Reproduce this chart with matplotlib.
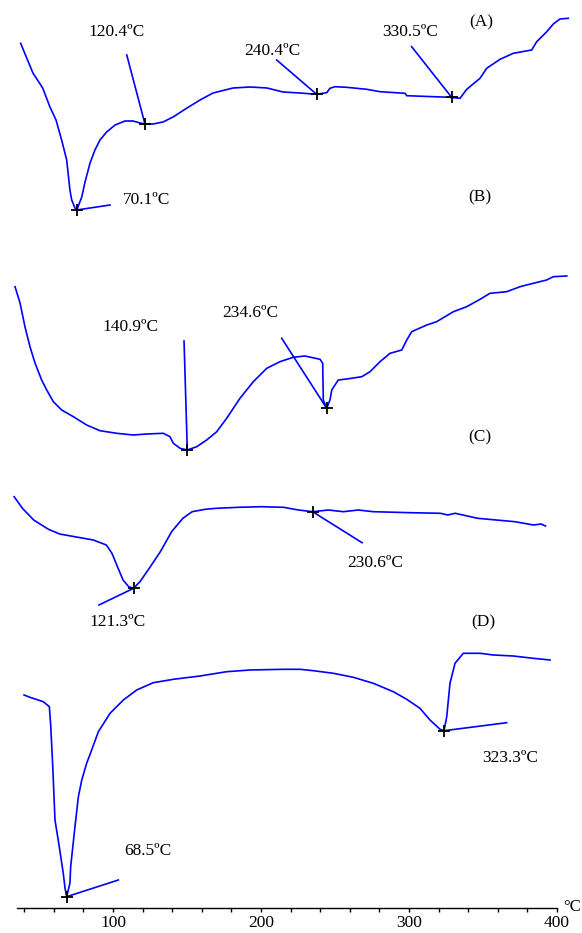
import numpy as np
import matplotlib
matplotlib.use("Agg")
import matplotlib.pyplot as plt

plt.rcParams['font.family'] = ['Liberation Serif', 'DejaVu Serif']

# DSC curves, temperature in degC, signal in arbitrary units (0 = lowest point of each curve)
temp_a = [37.6, 41.7, 45.9, 52.5, 57.4, 61.5, 65.3, 68.7, 70.9, 72.1, 74.3, 75.5, 78.9, 81.1, 84.5,
          87.8, 91.2, 95.7, 101.4, 108.1, 113.5, 118.3, 121.6, 127.0, 133.8, 140.6, 150.0, 158.8,
          167.6, 181.1, 192.6, 204.1, 214.9, 226.4, 237.6, 244.4, 246.6, 250.0, 257.9, 271.4, 280.4,
          297.3, 298.5, 327.7, 334.5, 339.0, 348.0, 352.5, 361.5, 370.5, 382.9, 386.3, 393.1, 397.5,
          402.0, 407.6]
dsc_a = [166.7, 152, 137, 122, 103, 90, 70, 50, 20, 10, 2, 0, 13, 28, 47, 60, 70, 78, 85, 89, 89, 87,
         86, 86, 88, 93, 102, 110, 117, 122, 123, 122, 118, 117, 115.7, 117.3, 121.7, 123.3, 122.7,
         120.7, 118.3, 116.7, 114.3, 112.7, 111.7, 120.7, 131.7, 141.7, 150.7, 156.7, 160, 168.3,
         178.3, 186, 191, 191.7]

temp_b = [33.8, 37.2, 40.5, 43.9, 47.3, 51.8, 55.2, 59.7, 65.3, 73.2, 82.2, 91.2, 102.5, 113.7, 122.8,
          134.0, 138.5, 140.8, 145.3, 150.2, 156.6, 163.3, 170.1, 176.8, 185.8, 194.8, 203.9, 212.8,
          221.8, 229.7, 239.9, 241.7, 242.1, 244.4, 246.6, 247.8, 252.2, 257.9, 268.1, 273.7, 280.4,
          287.2, 295.1, 298.5, 301.8, 312.0, 318.7, 330.0, 339.0, 348.0, 354.7, 366.0, 375.0, 384.0,
          393.0, 397.5, 406.6]
dsc_b = [163.3, 147, 123.3, 103.3, 87, 70, 60, 48.3, 40, 33.3, 25, 19.3, 16.7, 15, 16, 16.7, 13.3, 6.7,
         1.7, 0, 3.3, 10, 18.3, 31.7, 51.7, 68.3, 81.7, 88.3, 92.7, 94, 90.7, 86.7, 50, 41.7, 50, 60,
         70, 71, 73.3, 78.3, 88.3, 96.7, 100, 110, 118.3, 125, 128.3, 138.3, 143.3, 150.7, 156.7,
         158.3, 163.3, 166.7, 170, 173.3, 174]

temp_c = [33.2, 38.8, 46.4, 56.4, 64.0, 74.1, 86.7, 95.5, 99.3, 103.0, 106.8, 110.6, 113.9, 118.2,
          124.5, 132.0, 139.6, 147.2, 153.5, 162.3, 169.9, 185.0, 200.1, 215.3, 225.3, 234.9, 245.5,
          255.6, 265.7, 275.8, 301.0, 321.2, 326.2, 331.2, 346.4, 371.6, 384.2, 389.2, 392.2]
dsc_c = [91.6, 80, 68.3, 59, 54.3, 51.6, 48.3, 43.3, 35, 21.6, 8.3, 1.6, 0, 6.6, 20, 36.6, 56.6, 70,
         76.6, 79, 80, 81, 81.6, 81, 78.3, 76.6, 78.3, 76.6, 78.3, 76.6, 75.6, 75, 73.3, 75, 70, 66.6,
         63.3, 64.3, 62.3]

temp_d = [39.9, 43.9, 52.9, 57.0, 57.9, 59.3, 60.8, 63.7, 66.4, 67.6, 68.7, 70.9, 71.4, 74.3, 76.6,
          78.9, 82.2, 85.6, 90.1, 98.0, 107.0, 116.0, 127.2, 140.8, 158.8, 176.8, 192.6, 215.1, 226.4,
          235.4, 248.9, 262.4, 275.9, 289.4, 298.5, 307.4, 314.2, 321.0, 323.7, 325.5, 327.7, 331.1,
          336.7, 348.0, 357.0, 370.5, 384.0, 395.3]
dsc_d = [201.7, 199.4, 195, 190, 171.7, 130, 76.7, 50, 23.4, 8.4, 0, 13.4, 30, 70, 100, 116.7, 133.4,
         146.7, 165, 183.4, 196.7, 206.7, 214, 217.4, 220.7, 225, 226.7, 227.4, 227.4, 226, 223.4,
         219.4, 213.4, 205, 197.4, 188.4, 176.7, 167.4, 166, 180, 213.4, 233.4, 243.4, 243.4, 241.7,
         240.7, 238.4, 236.7]

# marked points and the far end of their tangent lines
marks_a = [75.5, 121.6, 237.6, 328.9]
tan_a_t = [98.0, 109.3, 210.6, 301.8]
tan_a_y = [5, 155, 150, 163.3]
marks_b = [150.2, 244.4]
tan_b_t = [148.0, 214.0]
tan_b_y = [109, 111.7]
marks_c = [113.9, 234.9]
tan_c_t = [90.5, 268.3]
tan_c_y = [-16.7, 45.6]
marks_d = [68.7, 323.7]
tan_d_t = [103.6, 366.0]
tan_d_y = [16.7, 174]

labels_a = ["70.1ºC", "120.4ºC", "240.4ºC", "330.5ºC"]
labels_b = ["140.9ºC", "234.6ºC"]
labels_c = ["121.3ºC", "230.6ºC"]
labels_d = ["68.5ºC", "323.3ºC"]

tick_temps = list(range(40, 401, 20))
tick_labels = ["100", "200", "300", "400"]

BLUE = "#0000ff"

fig = plt.figure(figsize=(5.82, 9.33), dpi=100)
ax = fig.add_axes([0, 0, 1, 1])
ax.set_xlim(23.65, 416.9)
ax.set_ylim(0, 933)

curves = [
    (temp_a, dsc_a, marks_a, tan_a_t, tan_a_y, 723),
    (temp_b, dsc_b, marks_b, tan_b_t, tan_b_y, 483),
    (temp_c, dsc_c, marks_c, tan_c_t, tan_c_y, 344.7),
    (temp_d, dsc_d, marks_d, tan_d_t, tan_d_y, 36.3),
]

for t, y, marks, tt, ty, off in curves:
    y = np.array(y) + off
    ax.plot(t, y, color=BLUE, lw=1.2, solid_joinstyle='miter')
    my = np.interp(marks, t, y)
    for m, mv, et, ey in zip(marks, my, tt, ty):
        ax.plot([m, et], [mv, ey + off], color=BLUE, lw=1.2)
    ax.plot(marks, my, '+', color='black', ms=8, mew=1.3, zorder=5)

fs = 12.5
# curve A
ax.text(122.8, 733, labels_a[0], fontsize=fs, ha='center', va='center')
ax.text(102.5, 901, labels_a[1], fontsize=fs, ha='center', va='center')
ax.text(207.4, 882, labels_a[2], fontsize=fs, ha='center', va='center')
ax.text(300.7, 901, labels_a[3], fontsize=fs, ha='center', va='center')
ax.text(349.1, 911, "(A)", fontsize=fs, ha='center', va='center')
ax.text(348.0, 736, "(B)", fontsize=fs, ha='center', va='center')
# curve B
ax.text(111.5, 606, labels_b[0], fontsize=fs, ha='center', va='center')
ax.text(192.6, 620, labels_b[1], fontsize=fs, ha='center', va='center')
ax.text(348.0, 496, "(C)", fontsize=fs, ha='center', va='center')
# curve C
ax.text(103.0, 311, labels_c[0], fontsize=fs, ha='center', va='center')
ax.text(277.0, 370, labels_c[1], fontsize=fs, ha='center', va='center')
ax.text(350.1, 311, "(D)", fontsize=fs, ha='center', va='center')
# curve D
ax.text(123.9, 82, labels_d[0], fontsize=fs, ha='center', va='center')
ax.text(368.3, 175, labels_d[1], fontsize=fs, ha='center', va='center')

# temperature axis
for s in ['top', 'left', 'right']:
    ax.spines[s].set_visible(False)
ax.spines['bottom'].set_position(('data', 25))
ax.spines['bottom'].set_bounds(35.4, 400)
ax.spines['bottom'].set_linewidth(1.0)
ax.set_yticks([])
ax.set_xticks(tick_temps)
ax.set_xticklabels([str(v) if str(v) in tick_labels else "" for v in tick_temps])
ax.tick_params(axis='x', direction='out', length=3, width=1.0, pad=2, labelsize=fs)
ax.text(416.5, 26, "°C", fontsize=12, ha='right', va='center')

fig.savefig("out.png", dpi=100)
